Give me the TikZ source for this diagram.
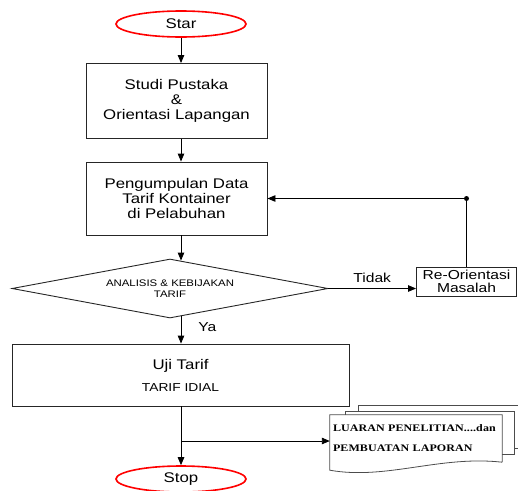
\documentclass[tikz,border=0pt]{standalone}
\usepackage{fontspec}
\setmainfont{Liberation Sans}[FakeStretch=1.2]
\newfontfamily\docfont{Liberation Serif}[FakeStretch=1.2,LetterSpace=1]
\usetikzlibrary{arrows.meta,positioning,shapes.geometric,calc}

\begin{document}
\begin{tikzpicture}[x=1pt, y=-1pt,
  term/.style={ellipse, draw=red, line width=1.6pt, minimum width=130pt,
               minimum height=26pt, inner sep=0pt,
               font=\fontsize{14}{14}\selectfont},
  pbox/.style={rectangle, draw=black!85, line width=0.9pt, inner sep=0pt,
               align=center, font=\fontsize{14}{15}\selectfont},
  dbox/.style={diamond, draw=black!85, line width=0.9pt, inner sep=0pt,
               aspect=5, minimum width=316pt, minimum height=59pt,
               align=center, font=\fontsize{9.5}{10.5}\selectfont},
  page/.style={draw=black!70, line width=0.8pt},
  lbl/.style={inner sep=0pt, font=\fontsize{13}{14}\selectfont},
  farr/.style={-{Triangle[length=8pt,width=6.5pt]}, line width=0.9pt}
]
\clip (0,0) rectangle (518,490);

% Terminals
\node[term] (star) at (181,24)  {Star};
\node[term] (stop) at (181,479) {Stop};

% Process boxes
\node[pbox, minimum width=181pt, minimum height=75pt] (studi) at (176.5,101)
  {Studi Pustaka\\\&\\Orientasi Lapangan};
\node[pbox, minimum width=181pt, minimum height=73pt] (data) at (176.5,198.5)
  {Pengumpulan Data\\Tarif Kontainer\\di Pelabuhan};
\node[dbox] (ana) at (170,288.5) {ANALISIS \& KEBIJAKAN\\TARIF};
\node[pbox, minimum width=100pt, minimum height=29pt,
      font=\fontsize{13}{12.5}\selectfont] (reori) at (466.5,281.5)
  {Re-Orientasi\\Masalah};
\node[pbox, minimum width=337pt, minimum height=62pt] (uji) at (180.5,375)
  {Uji Tarif\\[7pt]{\fontsize{11.5}{13}\selectfont TARIF IDIAL}};

% Output pages
\draw[page, fill=white] (358,405) rectangle (530,448);
\draw[page, fill=white] (345,411) rectangle (514,454);
\node[fill=white, minimum width=172pt, minimum height=47pt, inner xsep=3pt,
      inner ysep=0pt, text width=166pt, align=left,
      font=\docfont\bfseries\fontsize{10}{20}\selectfont] (luaran) at (416,438.5)
  {LUARAN PENELITIAN....dan\\PEMBUATAN LAPORAN};
\draw[page] (luaran.south east) -- (luaran.north east) -- (luaran.north west)
  -- ($(luaran.south west)+(0,8)$)
  .. controls ($(luaran.south)+(-30,18)$) and ($(luaran.south)+(24,-7)$)
  .. (luaran.south east);

% Helper points
\coordinate (anatop) at ($(ana.north -| star.south)+(0,2)$);
\coordinate (anabot) at ($(ana.south -| star.south)+(0,-2)$);
\coordinate (fb) at (reori.north |- data.east);
\coordinate (br) at (181,441);

% Arrows
\draw[farr] (star.south) -- (studi.north -| star.south);
\draw[farr] (studi.south -| star.south) -- (data.north -| star.south);
\draw[farr] (data.south -| star.south) -- (anatop);
\draw[farr] (anabot) -- node[lbl, pos=0.4, right=17pt] {Ya} (uji.north -| star.south);
\draw[farr] (ana.east) -- node[lbl, midway, above=5pt] {Tidak} (ana.east -| reori.west);
\draw[farr] (reori.north) -- (fb) -- (data.east);
\fill (fb) circle (2.5pt);
\draw[farr] (uji.south -| star.south) -- (stop.north);
\draw[farr] (br) -- (br -| luaran.west);
\end{tikzpicture}
\end{document}
